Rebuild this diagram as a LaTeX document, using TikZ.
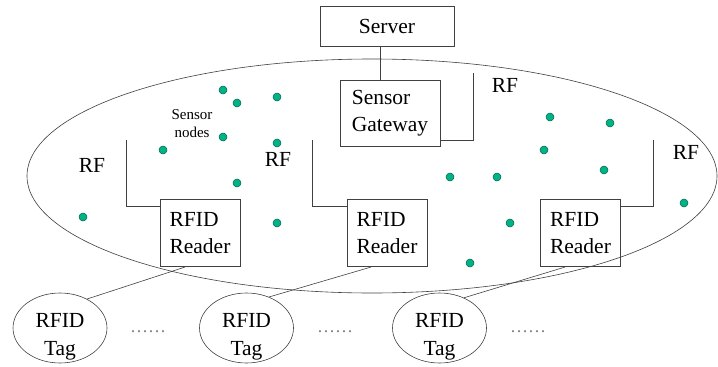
\documentclass[tikz,border=0pt]{standalone}
\usepackage{fontspec}
\setmainfont{Liberation Serif}
\usetikzlibrary{shapes.geometric}
\definecolor{sensorgreen}{HTML}{00B386}
\definecolor{ink}{HTML}{404040}
\begin{document}
\begin{tikzpicture}[x=1pt,y=-1pt,
	every node/.style={font=\fontsize{21.5}{27.5}\selectfont},
	box/.style={draw=ink,line width=0.6pt,rectangle,align=left,inner sep=0pt},
	tag/.style={draw=ink,line width=0.6pt,ellipse,inner sep=0pt,minimum width=94pt,minimum height=70pt},
	tagtext/.style={align=center,yshift=-9pt,inner sep=0pt},
	field/.style={draw=ink,line width=0.6pt,ellipse,inner sep=0pt,minimum width=690pt,minimum height=234pt},
	sensor/.style={circle,fill=sensorgreen,draw=sensorgreen!55!black,line width=0.5pt,inner sep=0pt,minimum size=8pt},
	link/.style={draw=ink,line width=0.6pt},
	more/.style={text=gray,anchor=base,font=\fontsize{18}{20}\selectfont}]
	\useasboundingbox (0,0) rectangle (718,367);

	% sensor field
	\node[field] (net) at (372,176) {};

	% server and gateway
	\node[box,minimum width=134pt,minimum height=40pt] (srv) at (387,26) {Server};
	\node[box,minimum width=100pt,minimum height=66pt] (gw) at (390,113) {Sensor\\Gateway};
	\draw[link] ([xshift=-7pt]srv.south) -- ([xshift=-7pt]srv.south |- gw.north);

	% readers
	\node[box,minimum width=80pt,minimum height=67.5pt] (rd1) at (200,233) {RFID\\Reader};
	\node[box,minimum width=80pt,minimum height=67.5pt] (rd2) at (387,233) {RFID\\Reader};
	\node[box,minimum width=80pt,minimum height=67.5pt] (rd3) at (580.5,233) {RFID\\Reader};

	% tags
	\node[tag,label={[tagtext]center:RFID\\Tag}] (tag1) at (60,328) {};
	\node[tag,label={[tagtext]center:RFID\\Tag}] (tag2) at (246.5,328) {};
	\node[tag,label={[tagtext]center:RFID\\Tag}] (tag3) at (439.5,328) {};
	\node[more] (dots1) at (148,332) {……};
	\node[more] (dots2) at (335,332) {……};
	\node[more] (dots3) at (528,332) {……};

	% antennas
	\coordinate (ant0) at (473.7,73);
	\coordinate (ant1) at (126.7,140);
	\coordinate (ant2) at (312.7,140);
	\coordinate (ant3) at (653.7,140);
	\draw[link] ([yshift=6pt]gw.south east) -| (ant0);
	\draw[link] ([yshift=-7pt]rd1.north west) -| (ant1);
	\draw[link] ([yshift=-7pt]rd2.north west) -| (ant2);
	\draw[link] ([yshift=-7pt]rd3.north east) -| (ant3);
	\node (rf0) at (505,85) {RF};
	\node (rf1) at (92,165) {RF};
	\node (rf2) at (278,159) {RF};
	\node (rf3) at (686,152) {RF};

	% reader to tag
	\draw[link] ([xshift=-15pt]rd1.south) -- (tag1.47);
	\draw[link] ([xshift=-16pt]rd2.south) -- (tag2.54);
	\draw[link] ([xshift=-15.5pt]rd3.south) -- (tag3.51);

	% sensor nodes
	\foreach \p [count=\i] in {(223,90),(237,103),(277,97),(223,137),(163,150),(277,143),
		(237,183),(83,217),(277,223),(550,117),(610,123),(544,150),(604,170),
		(450,177),(497,177),(684,203),(510,223),(470,263)}
		\node[sensor] (s\i) at \p {};
	\node[align=center,font=\fontsize{15}{18}\selectfont] (lbl) at (192,124) {Sensor\\nodes};
\end{tikzpicture}
\end{document}
